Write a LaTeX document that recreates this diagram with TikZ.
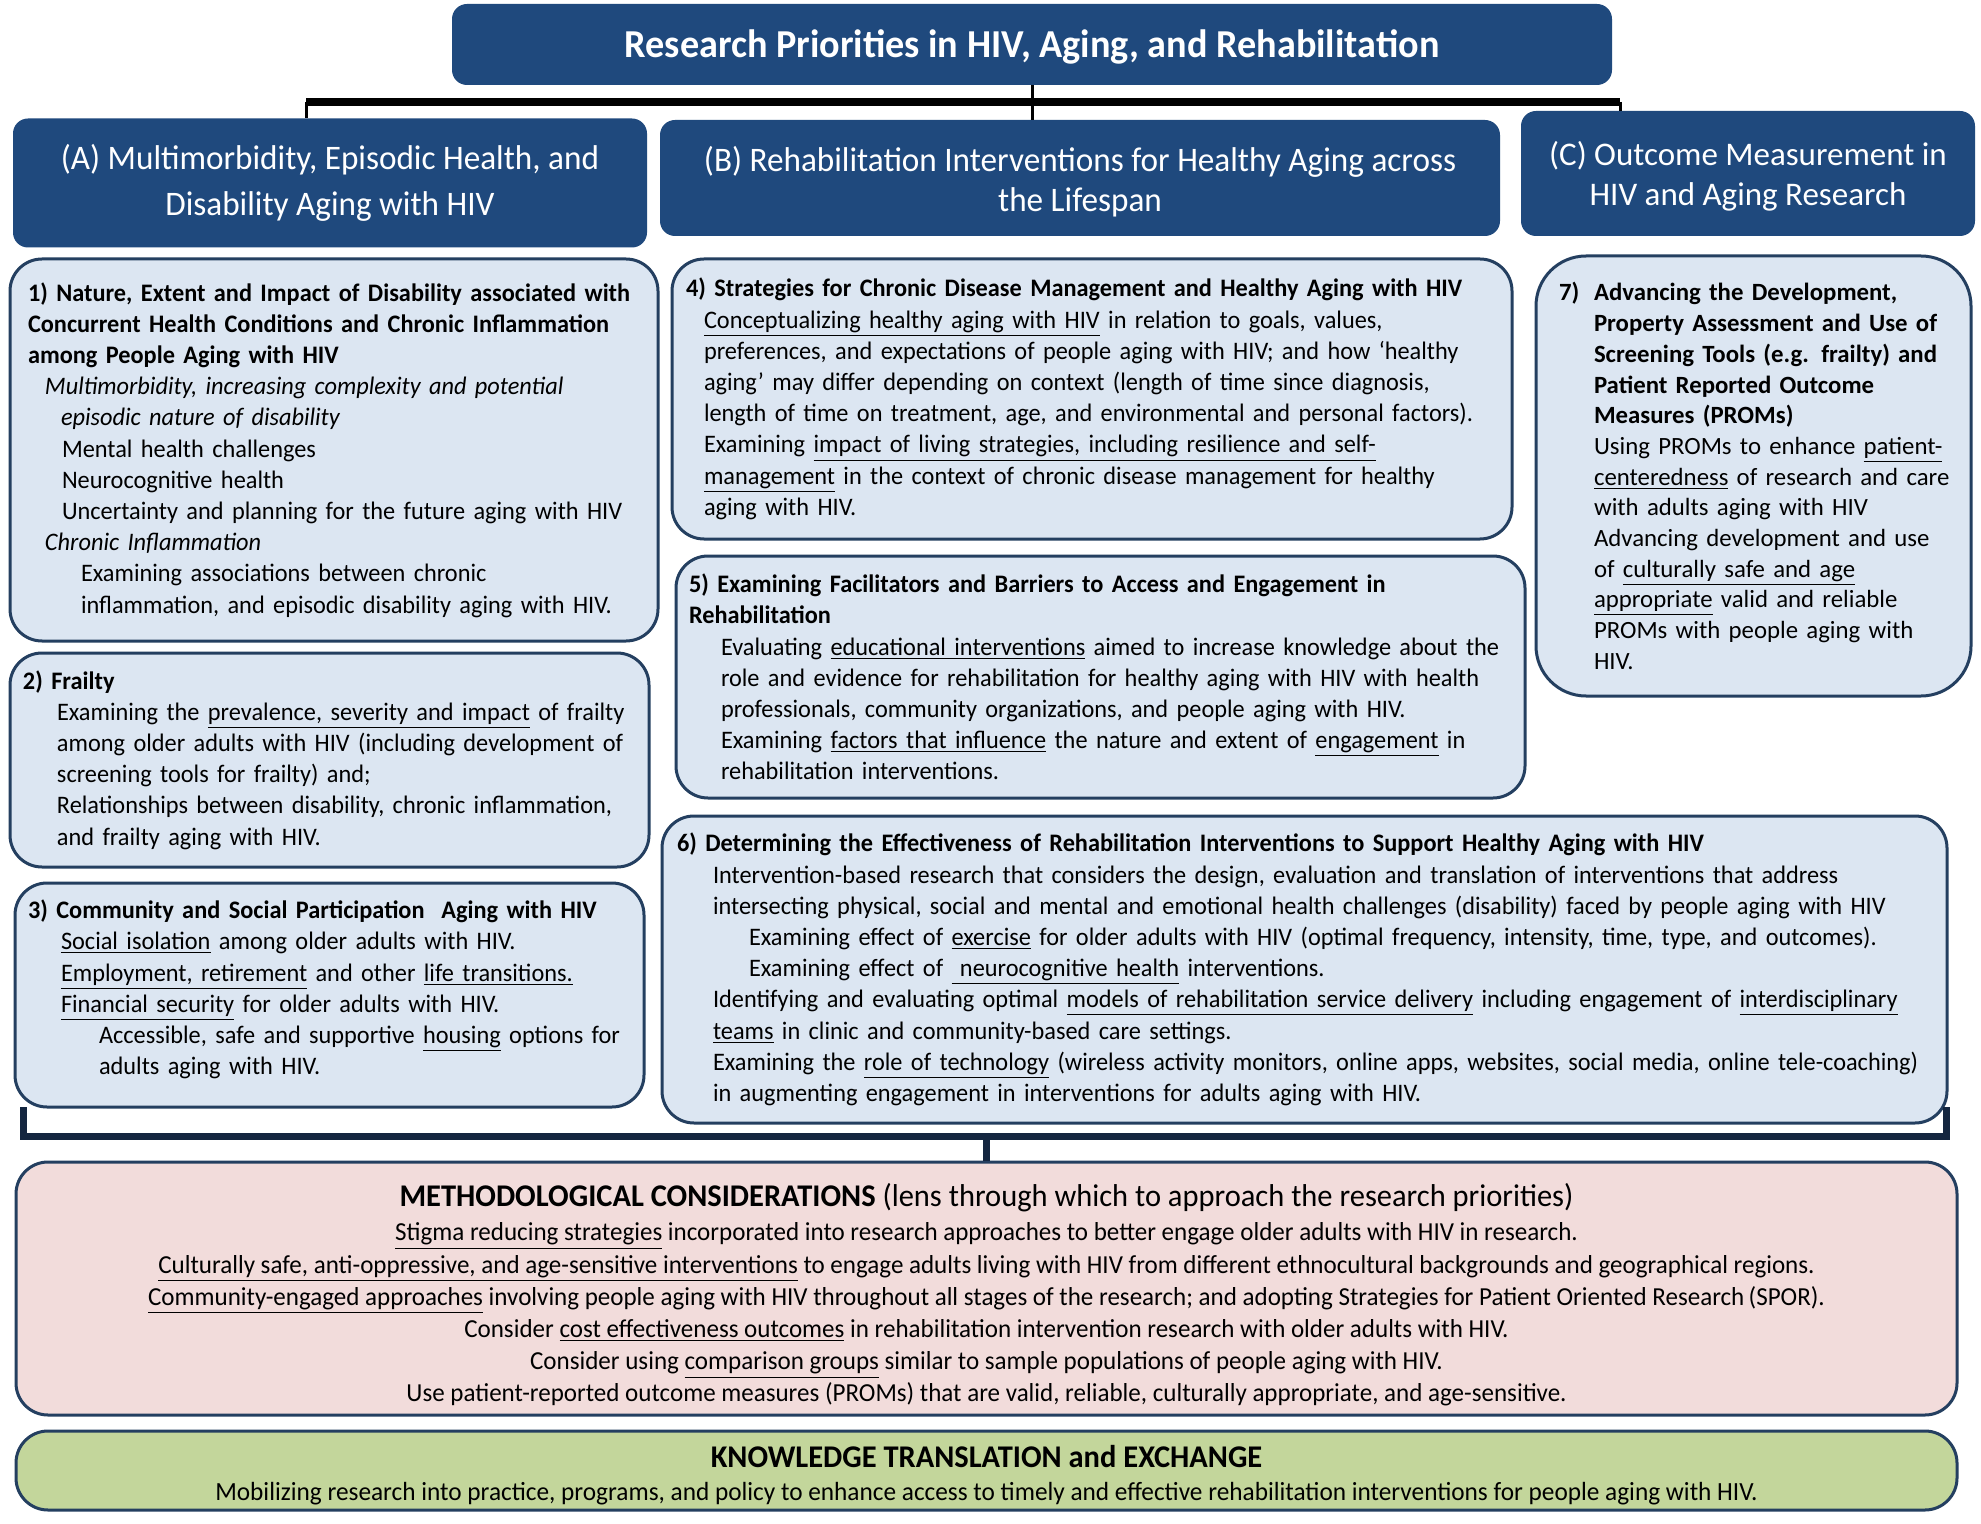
\documentclass[tikz,border=0pt]{standalone}
\usepackage{fontspec}
\setmainfont[FakeStretch=0.965]{Carlito}
\newfontfamily\widefont{Carlito}
\usetikzlibrary{calc}

\definecolor{hdrblue}{HTML}{1F497D}
\definecolor{edgeblue}{HTML}{243F60}
\definecolor{paleblue}{HTML}{DCE6F2}
\definecolor{palepink}{HTML}{F2DCDB}
\definecolor{palegreen}{HTML}{C3D69B}
\definecolor{navy}{HTML}{142640}

\newcommand{\undl}[1]{\underline{#1}}

\begin{document}
\begin{tikzpicture}[
  x=0.5pt,
  y=-0.5pt,
  font=\fontsize{12.6}{15.6}\selectfont,
  hdr/.style={fill=hdrblue,text=white,rounded corners=7.5pt,align=center,
    inner sep=0pt,font=\fontsize{17.2}{22.7}\selectfont},
  prio/.style={draw=edgeblue,line width=1.5pt,fill=paleblue,rounded corners=16pt,
    align=left,inner ysep=0pt},
  method/.style={draw=edgeblue,line width=1.5pt,rounded corners=16pt,align=center,inner sep=0pt},
  trunk/.style={draw=black,line width=3.75pt},
  twig/.style={draw=black,line width=1.5pt},
  brace/.style={draw=navy,line width=3.5pt}
]
\path[use as bounding box,fill=white] (0,0) rectangle (1981,1524);

% Title and the three themes
\node[hdr,minimum width=580pt,minimum height=40.5pt,font=\fontsize{19.8}{24}\selectfont\bfseries]
  (title) at (1032,44.5) {\rule{0pt}{16.5pt}Research Priorities in HIV, Aging, and Rehabilitation};
\node[hdr,minimum width=317pt,minimum height=64.5pt] (hA) at (330,183)
  {(A) Multimorbidity, Episodic Health, and\\Disability Aging with HIV};
\node[hdr,minimum width=420pt,minimum height=58pt,font=\fontsize{17.2}{20.2}\selectfont] (hB) at (1080,178)
  {\rule{0pt}{16.5pt}(B) Rehabilitation Interventions for Healthy Aging across\\the Lifespan};
\node[hdr,minimum width=227pt,minimum height=62.5pt,font=\widefont\fontsize{16.5}{20.2}\selectfont]
  (hC) at (1748,173.5) {\rule{0pt}{15pt}(C) Outcome Measurement in\\HIV and Aging Research};

% Top bracket
\coordinate (brL) at (306,102);
\coordinate (brR) at (1620,102);
\draw[trunk] (brL) -- (brR);
\draw[twig] (title.south) -- (title.south |- hB.north);
\draw[twig] (brL) -- (brL |- hA.north);
\draw[twig] (brR) -- (brR |- hC.north);

% Theme A
\node[prio,text width=306pt,minimum height=191pt,inner xsep=9pt] (p1) at (334,450)
  {\textbf{1) Nature, Extent and Impact of Disability associated with}\\
   \textbf{Concurrent Health Conditions and Chronic Inflammation}\\
   \textbf{among People Aging with HIV}\\
   \hspace*{8.5pt}\textit{Multimorbidity, increasing complexity and potential}\\
   \hspace*{16.5pt}\textit{episodic nature of disability}\\
   \hspace*{17pt}Mental health challenges\\
   \hspace*{17pt}Neurocognitive health\\
   \hspace*{17pt}Uncertainty and planning for the future aging with HIV\\
   \hspace*{8.5pt}\textit{Chronic Inflammation}\\
   \hspace*{26.5pt}Examining associations between chronic\\
   \hspace*{26.5pt}inflammation, and episodic disability aging with HIV.};

\node[prio,text width=306.5pt,minimum height=107pt,inner xsep=6.5pt] (p2) at (329.5,760)
  {\textbf{2) Frailty}\\
   \hspace*{17pt}Examining the \undl{prevalence, severity and impact} of frailty\\
   \hspace*{17pt}among older adults with HIV (including development of\\
   \hspace*{17pt}screening tools for frailty) and;\\
   \hspace*{17pt}Relationships between disability, chronic inflammation,\\
   \hspace*{17pt}and frailty aging with HIV.};

\node[prio,text width=301.5pt,minimum height=112pt,inner xsep=6.5pt] (p3) at (329.5,995)
  {\textbf{3) Community and Social Participation\ \ Aging with HIV}\\
   \hspace*{16.5pt}\undl{Social isolation} among older adults with HIV.\\
   \hspace*{16.5pt}\undl{Employment, retirement} and other \undl{life transitions.}\\
   \hspace*{16.5pt}\undl{Financial security} for older adults with HIV.\\
   \hspace*{35.5pt}Accessible, safe and supportive \undl{housing} options for\\
   \hspace*{35.5pt}adults aging with HIV.\rule[-7.7pt]{0pt}{0pt}};

% Theme B
\node[prio,text width=406pt,minimum height=140pt,inner xsep=7pt] (p4) at (1092,399)
  {\textbf{4) Strategies for Chronic Disease Management and Healthy Aging with HIV}\\
   \hspace*{9pt}\undl{Conceptualizing healthy aging with HIV} in relation to goals, values,\\
   \hspace*{9pt}preferences, and expectations of people aging with HIV; and how ‘healthy\\
   \hspace*{9pt}aging’ may differ depending on context (length of time since diagnosis,\\
   \hspace*{9pt}length of time on treatment, age, and environmental and personal factors).\\
   \hspace*{9pt}Examining \undl{impact of living strategies, including resilience and self-}\\
   \hspace*{9pt}\undl{management} in the context of chronic disease management for healthy\\
   \hspace*{9pt}aging with HIV.};

\node[prio,text width=411.5pt,minimum height=121pt,inner xsep=6.5pt] (p5) at (1100.5,677)
  {\textbf{5) Examining Facilitators and Barriers to Access and Engagement in}\\
   \textbf{Rehabilitation}\\
   \hspace*{16pt}Evaluating \undl{educational interventions} aimed to increase knowledge about the\\
   \hspace*{16pt}role and evidence for rehabilitation for healthy aging with HIV with health\\
   \hspace*{16pt}professionals, community organizations, and people aging with HIV.\\
   \hspace*{16pt}Examining \undl{factors that influence} the nature and extent of \undl{engagement} in\\
   \hspace*{16pt}rehabilitation interventions.};

\node[prio,text width=627.5pt,minimum height=153.5pt,inner xsep=7.5pt] (p6) at (1304.5,969.5)
  {\textbf{6) Determining the Effectiveness of Rehabilitation Interventions to Support Healthy Aging with HIV}\\
   \hspace*{18pt}Intervention-based research that considers the design, evaluation and translation of interventions that address\\
   \hspace*{18pt}intersecting physical, social and mental and emotional health challenges (disability) faced by people aging with HIV\\
   \hspace*{36pt}Examining effect of \undl{exercise} for older adults with HIV (optimal frequency, intensity, time, type, and outcomes).\\
   \hspace*{36pt}Examining effect of \undl{\ neurocognitive health} interventions.\\
   \hspace*{18pt}Identifying and evaluating optimal \undl{models of rehabilitation service delivery} including engagement of \undl{interdisciplinary}\\
   \hspace*{18pt}\undl{teams} in clinic and community-based care settings.\\
   \hspace*{18pt}Examining the \undl{role of technology} (wireless activity monitors, online apps, websites, social media, online tele-coaching)\\
   \hspace*{18pt}in augmenting engagement in interventions for adults aging with HIV.};

% Theme C
\node[prio,rounded corners=25pt,text width=199pt,minimum height=220pt,inner xsep=9.25pt,
  font=\widefont\fontsize{12.4}{15.35}\selectfont] (p7) at (1753.5,476)
  {\hspace*{2.25pt}\textbf{\makebox[17.5pt][l]{7)}Advancing the Development,}\\
   \hspace*{19.75pt}\textbf{Property Assessment and Use of}\\
   \hspace*{19.75pt}\textbf{Screening Tools (e.g. frailty) and}\\
   \hspace*{19.75pt}\textbf{Patient Reported Outcome}\\
   \hspace*{19.75pt}\textbf{Measures (PROMs)}\\
   \hspace*{19.75pt}Using PROMs to enhance \undl{patient-}\\
   \hspace*{19.75pt}\undl{centeredness} of research and care\\
   \hspace*{19.75pt}with adults aging with HIV\\
   \hspace*{19.75pt}Advancing development and use\\
   \hspace*{19.75pt}of \undl{culturally safe and age}\\
   \hspace*{19.75pt}\undl{appropriate} valid and reliable\\
   \hspace*{19.75pt}PROMs with people aging with\\
   \hspace*{19.75pt}HIV.};

% Bottom bracket
\coordinate (bkL) at (23,1107);
\coordinate (bkR) at (1946,1107);

% Methodological considerations
\node[method,fill=palepink,minimum width=970.5pt,minimum height=126.5pt,
  font=\fontsize{12.97}{16.1}\selectfont] (meth) at (986.5,1288.5)
  {{\fontsize{15.8}{18}\selectfont\rule{0pt}{18pt}\textbf{METHODOLOGICAL CONSIDERATIONS} (lens through which to approach the research priorities)}\\[1pt]
   \undl{Stigma reducing strategies} incorporated into research approaches to better engage older adults with HIV in research.\\
   \undl{Culturally safe, anti-oppressive, and age-sensitive interventions} to engage adults living with HIV from different ethnocultural backgrounds and geographical regions.\\
   \undl{Community-engaged approaches} involving people aging with HIV throughout all stages of the research; and adopting Strategies for Patient Oriented Research\,(SPOR).\\
   Consider \undl{cost effectiveness outcomes} in rehabilitation intervention research with older adults with HIV.\\
   Consider using \undl{comparison groups} similar to sample populations of people aging with HIV.\\
   Use patient-reported outcome measures (PROMs) that are valid, reliable, culturally appropriate, and age-sensitive.};

\draw[brace] (bkL) -- ++(0,29) -| (bkR);
\draw[brace] (meth.north |- 0,1136) -- (meth.north);

% Knowledge translation
\node[method,fill=palegreen,minimum width=970.5pt,minimum height=39.5pt,
  font=\fontsize{13.1}{15.5}\selectfont] (kt) at (986.5,1470.5)
  {{\fontsize{15.8}{17}\selectfont\rule{0pt}{16pt}\textbf{KNOWLEDGE TRANSLATION and EXCHANGE}}\\[0.8pt]
   Mobilizing research into practice, programs, and policy to enhance access to timely and effective rehabilitation interventions for people aging with HIV.};

\end{tikzpicture}
\end{document}
